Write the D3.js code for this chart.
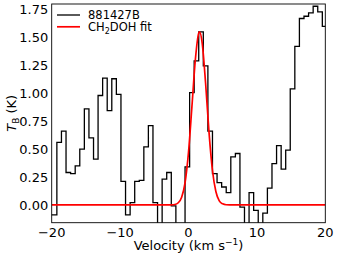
<!DOCTYPE html>
<html>
<head>
<meta charset="utf-8">
<script src="https://cdn.jsdelivr.net/npm/d3@7"></script>
<style>
  body { margin: 0; background: #fff; }
  text { font-family: "DejaVu Sans", sans-serif; }
</style>
</head>
<body>
<svg id="chart" width="338" height="260"></svg>
<script>
// channel velocities (km/s) of the spectrum
var velocity = [-20.24, -19.58, -18.91, -18.24, -17.57, -16.90, -16.23, -15.56, -14.89, -14.22,
  -13.55, -12.89, -12.22, -11.55, -10.88, -10.21, -9.54, -8.87, -8.20, -7.53,
  -6.86, -6.20, -5.53, -4.86, -4.19, -3.52, -2.85, -2.18, -1.51, -0.84,
  -0.17, 0.50, 1.16, 1.83, 2.50, 3.17, 3.84, 4.51, 5.18, 5.85,
  6.52, 7.19, 7.85, 8.52, 9.19, 9.86, 10.53, 11.20, 11.87, 12.54,
  13.21, 13.88, 14.54, 15.21, 15.88, 16.55, 17.22, 17.89, 18.56, 19.23,
  19.90, 20.57];
// brightness temperature T_B (K) of 881427B
var tb = [-0.09, -0.09, 0.56, 0.66, 0.29, 0.28, 0.35, 0.50, 0.86, 0.60,
  0.41, 0.98, 1.135, 0.845, 1.13, 0.99, 0.21, -0.09, 0.02, 0.21,
  0.22, 0.52, 0.71, 0.02, -0.30, 0.23, 0.29, -0.01, -0.30, -0.25,
  0.34, 1.006, 1.29, 1.55, 1.245, 0.66, 0.28, 0.20, 0.16, 0.11,
  0.43, 0.46, -0.02, -0.25, 0.11, -0.05, -0.25, -0.075, 0.15, 0.37,
  0.53, 0.32, 0.49, 1.04, 1.42, 1.67, 1.69, 1.72, 1.78, 1.73,
  1.60, 1.55];

// CH2DOH fit, sampled off the curve
var fitVelocity = [-20, -2.5, -2.0, -1.5, -1.0, -0.5, 0.0, 0.5, 1.0, 1.5, 1.62, 2.0, 2.5, 3.0, 3.5, 4.0, 4.5, 5.0, 5.5, 6.0, 20];
var fitTb = [0, 0, 0.003, 0.019, 0.069, 0.20, 0.47, 0.88, 1.30, 1.54, 1.55, 1.45, 1.09, 0.65, 0.31, 0.12, 0.036, 0.009, 0.001, 0, 0];

var xTicks = [-20, -10, 0, 10, 20];
var yTicks = [0.00, 0.25, 0.50, 0.75, 1.00, 1.25, 1.50, 1.75];
var legendLabels = ["881427B", "CH2DOH fit"];

var svg = d3.select("#chart");
var pLeft = 51.7, pRight = 325.3, pTop = 4, pBottom = 222.7;

var x = d3.scaleLinear().domain([-20, 20]).range([pLeft, pRight]);
var y = d3.scaleLinear().domain([-0.16, 1.8]).range([pBottom, pTop]);

svg.append("clipPath").attr("id", "plotclip")
  .append("rect")
  .attr("x", pLeft).attr("y", pTop)
  .attr("width", pRight - pLeft).attr("height", pBottom - pTop);

var plot = svg.append("g").attr("clip-path", "url(#plotclip)");

var spec = d3.range(velocity.length).map(function(i) { return [velocity[i], tb[i]]; });
var fit = d3.range(fitVelocity.length).map(function(i) { return [fitVelocity[i], fitTb[i]]; });

var stepLine = d3.line()
  .x(function(d) { return x(d[0]); })
  .y(function(d) { return y(d[1]); })
  .curve(d3.curveStep);

var smoothLine = d3.line()
  .x(function(d) { return x(d[0]); })
  .y(function(d) { return y(d[1]); })
  .curve(d3.curveMonotoneX);

plot.append("path")
  .attr("d", stepLine(spec))
  .attr("fill", "none")
  .attr("stroke", "#000")
  .attr("stroke-width", 1.3);

plot.append("path")
  .attr("d", smoothLine(fit))
  .attr("fill", "none")
  .attr("stroke", "#ff0000")
  .attr("stroke-width", 1.7);

// frame
svg.append("rect")
  .attr("x", pLeft).attr("y", pTop)
  .attr("width", pRight - pLeft).attr("height", pBottom - pTop)
  .attr("fill", "none")
  .attr("stroke", "#000")
  .attr("stroke-width", 0.9);

// tick labels
svg.selectAll(".xt").data(xTicks).enter().append("text")
  .attr("x", function(d) { return x(d); })
  .attr("y", 236.5)
  .attr("text-anchor", "middle")
  .attr("font-size", 13)
  .text(function(d) { return d < 0 ? "\u2212" + Math.abs(d) : d; });

svg.selectAll(".yt").data(yTicks).enter().append("text")
  .attr("x", 48.3)
  .attr("y", function(d) { return y(d) + 4.7; })
  .attr("text-anchor", "end")
  .attr("font-size", 13)
  .text(function(d) { return d.toFixed(2); });

// axis labels
var xl = svg.append("text")
  .attr("x", (pLeft + pRight) / 2)
  .attr("y", 250)
  .attr("text-anchor", "middle")
  .attr("font-size", 13);
xl.append("tspan").text("Velocity (km s");
xl.append("tspan").attr("font-size", 9).attr("dy", -5).text("\u22121");
xl.append("tspan").attr("dy", 5).text(")");

var yl = svg.append("text")
  .attr("transform", "translate(15.5," + ((pTop + pBottom) / 2) + ") rotate(-90)")
  .attr("text-anchor", "middle")
  .attr("font-size", 13);
yl.append("tspan").attr("font-style", "italic").text("T");
yl.append("tspan").attr("font-size", 9).attr("dy", 3).text("B");
yl.append("tspan").attr("dy", -3).text(" (K)");

// legend
var legend = svg.append("g");
var legendColors = ["#000", "#ff0000"];
legendLabels.forEach(function(label, i) {
  var ly = 15 + i * 11.8;
  legend.append("line")
    .attr("x1", 57).attr("x2", 80)
    .attr("y1", ly).attr("y2", ly)
    .attr("stroke", legendColors[i])
    .attr("stroke-width", i === 0 ? 1.3 : 1.7);
  var t = legend.append("text")
    .attr("x", 88).attr("y", ly + 4.2)
    .attr("font-size", 11.5);
  if (label === "CH2DOH fit") {
    t.append("tspan").text("CH");
    t.append("tspan").attr("font-size", 8).attr("dy", 2.5).text("2");
    t.append("tspan").attr("dy", -2.5).text("DOH fit");
  } else {
    t.text(label);
  }
});
</script>
</body>
</html>
